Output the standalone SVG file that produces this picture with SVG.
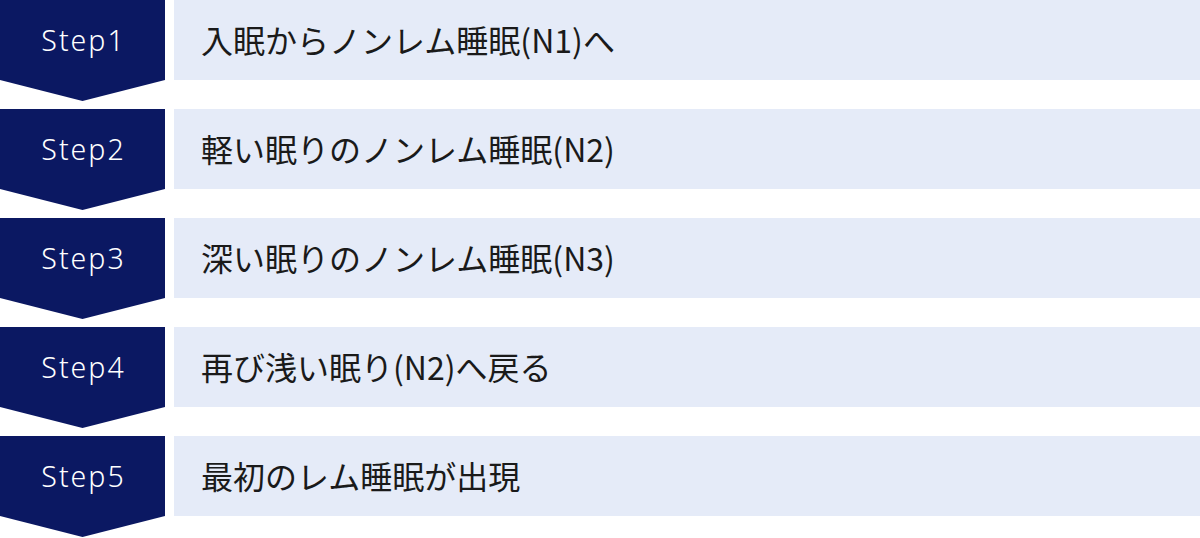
<svg xmlns="http://www.w3.org/2000/svg" width="1200" height="538" viewBox="0 0 1200 538">
<style>
.chev{fill:#0b1862}
.bar{fill:#e5ebf8}
.step{font-family:"Noto Sans","Open Sans",sans-serif;font-size:28.5px;font-weight:300;fill:#ffffff;text-anchor:middle;letter-spacing:2px}
.lbl{font-family:"Noto Sans CJK JP","Noto Sans",sans-serif;font-size:32px;fill:#1a1a1a}
</style>
<defs>
<path id="chevShape" d="M0,0 H165 V80 L82.5,101 L0,80 Z"/>
</defs>
<g id="connectors"></g>
<g id="step1" transform="translate(0,0)">
<use href="#chevShape" class="chev"/>
<rect class="bar" x="174" y="0" width="1026" height="80"/>
<text class="step" x="83.5" y="51">Step1</text>
<text class="lbl" x="201" y="52.5">入眠からノンレム睡眠(N1)へ</text>
</g>
<g id="step2" transform="translate(0,109)">
<use href="#chevShape" class="chev"/>
<rect class="bar" x="174" y="0" width="1026" height="80"/>
<text class="step" x="83.5" y="51">Step2</text>
<text class="lbl" x="201" y="52.5">軽い眠りのノンレム睡眠(N2)</text>
</g>
<g id="step3" transform="translate(0,218)">
<use href="#chevShape" class="chev"/>
<rect class="bar" x="174" y="0" width="1026" height="80"/>
<text class="step" x="83.5" y="51">Step3</text>
<text class="lbl" x="201" y="52.5">深い眠りのノンレム睡眠(N3)</text>
</g>
<g id="step4" transform="translate(0,327)">
<use href="#chevShape" class="chev"/>
<rect class="bar" x="174" y="0" width="1026" height="80"/>
<text class="step" x="83.5" y="51">Step4</text>
<text class="lbl" x="201" y="52.5">再び浅い眠り(N2)へ戻る</text>
</g>
<g id="step5" transform="translate(0,436)">
<use href="#chevShape" class="chev"/>
<rect class="bar" x="174" y="0" width="1026" height="80"/>
<text class="step" x="83.5" y="51">Step5</text>
<text class="lbl" x="201" y="52.5">最初のレム睡眠が出現</text>
</g>
</svg>
